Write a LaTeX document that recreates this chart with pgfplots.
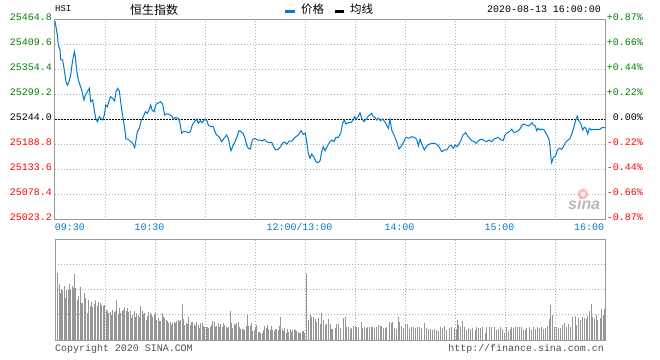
\documentclass[border=0pt]{standalone}
\usepackage{pgfplots}
\pgfplotsset{compat=1.18}
\usepackage{fontspec}
\setmainfont{Liberation Sans}
\setmonofont{Liberation Mono}
\newfontfamily\cjk{Noto Sans CJK SC}
\definecolor{sinablue}{RGB}{0,122,204}
\definecolor{upgreen}{RGB}{0,128,0}
\definecolor{downred}{RGB}{255,0,0}
\definecolor{framegray}{RGB}{153,153,153}
\definecolor{gridgray}{RGB}{175,175,175}
\definecolor{bargray}{RGB}{150,150,150}
\definecolor{txtgray}{RGB}{80,80,80}
\newcommand{\mono}{\ttfamily\fontsize{10}{10}\selectfont}
\begin{document}
\begin{tikzpicture}
\useasboundingbox (0bp,0bp) rectangle (660bp,360bp);
\pgfplotsset{
  sinapanel/.style={
    scale only axis, width=550bp,
    xmin=0, xmax=330, xtick={0,30,...,330},
    grid=major, scaled ticks=false,
    major grid style={gridgray, line width=1bp, dash pattern=on 1bp off 2bp},
    axis line style={framegray, line width=1bp},
    major tick length=0pt, tick style={draw=none},
  }
}
% ---------- price panel ----------
\begin{axis}[sinapanel, at={(55bp,140bp)}, anchor=south west, height=200bp,
  ymin=25023.2, ymax=25464.8,
  ytick={25023.2,25078.4,25133.6,25188.8,25244.0,25299.2,25354.4,25409.6,25464.8},
  yticklabels={\textcolor{downred}{25023.2},\textcolor{downred}{25078.4},\textcolor{downred}{25133.6},\textcolor{downred}{25188.8},25244.0,\textcolor{upgreen}{25299.2},\textcolor{upgreen}{25354.4},\textcolor{upgreen}{25409.6},\textcolor{upgreen}{25464.8}},
  yticklabel style={font=\mono, anchor=east, inner sep=0pt, xshift=-3bp, yshift=3bp},
  xticklabels={\makebox[0pt][l]{09:30},,\makebox[0pt]{10:30\kern11bp},,,\makebox[0pt]{12:00/13:00\kern11bp},,\makebox[0pt]{14:00\kern11bp},,\makebox[0pt]{15:00\kern11bp},,\makebox[0pt][r]{16:00\kern1bp}},
  xticklabel style={font=\mono, text=sinablue, anchor=north, inner sep=0pt, yshift=-3.5bp},
]
\addplot[black, line width=1bp, dash pattern=on 2bp off 1bp] coordinates {(0,25244.0) (330,25244.0)};
\addplot[sinablue, line width=1bp] coordinates {
(0,25462.6) (1.4,25431.7) (2.0,25409.6) (3.0,25398.6) (3.4,25376.5) (4.6,25376.5) (5.4,25358.2) (6.0,25343.4) (6.6,25328.6) (7.4,25321.3) (8.4,25328.6) (9.4,25343.4) (10.2,25365.4) (11.0,25383.8) (11.6,25394.8) (12.2,25383.8) (13.0,25354.4) (14.0,25332.3) (15.0,25321.3) (16.0,25310.2) (17.4,25288.2) (18.2,25299.2) (19.4,25306.5) (20.6,25314.0) (21.4,25284.4) (22.6,25288.2) (23.4,25269.8) (24.4,25247.8) (25.4,25240.2) (26.6,25251.3) (27.8,25246.2) (28.6,25244.0) (29.6,25255.0) (30.4,25277.1) (31.4,25273.4) (32.6,25288.2) (33.4,25295.5) (34.6,25291.9) (35.8,25286.0) (36.6,25306.5) (37.6,25314.0) (38.6,25308.0) (39.4,25284.4) (40.2,25262.3) (41.0,25244.0) (41.8,25225.7) (42.6,25202.0) (43.8,25202.0) (45.0,25197.6) (46.6,25192.6) (47.8,25182.8) (48.6,25199.8) (49.4,25218.2) (50.6,25225.7) (51.8,25244.0) (53.0,25251.3) (54.2,25262.3) (55.4,25258.8) (56.6,25268.3) (57.4,25277.1) (58.2,25266.1) (59.4,25262.3) (60.6,25278.7) (61.8,25280.9) (63.4,25284.4) (64.6,25278.7) (65.8,25255.0) (67.0,25257.7) (68.4,25256.6) (70.0,25252.8) (71.0,25246.2) (72.0,25249.1) (74.0,25247.8) (75.0,25236.7) (76.0,25214.6) (77.0,25218.2) (78.4,25218.2) (80.0,25216.0) (81.2,25218.2) (82.4,25233.0) (83.6,25240.2) (85.0,25246.2) (86.0,25236.7) (87.2,25242.5) (88.4,25238.0) (89.6,25245.5) (91.0,25244.0) (92.0,25233.0) (93.4,25229.2) (95.0,25229.2) (96.0,25218.2) (97.0,25210.9) (98.4,25207.1) (100.0,25196.1) (101.4,25203.6) (103.0,25210.9) (104.0,25203.6) (105.0,25185.0) (105.6,25176.2) (107.0,25188.8) (108.0,25196.1) (109.2,25207.1) (110.4,25220.4) (111.6,25218.2) (112.8,25214.6) (114.0,25203.6) (115.0,25188.8) (116.0,25181.5) (117.2,25180.0) (118.4,25199.8) (120.0,25203.6) (121.6,25199.8) (123.0,25199.8) (124.4,25197.6) (125.6,25201.4) (127.0,25196.1) (128.4,25193.9) (130.0,25194.8) (131.2,25185.0) (132.4,25177.8) (134.0,25179.3) (135.6,25186.6) (136.6,25192.6) (137.8,25195.4) (139.0,25190.3) (140.6,25197.6) (142.2,25197.6) (144.0,25205.8) (146.0,25210.9) (147.6,25220.4) (149.0,25212.1) (150.2,25214.6) (151.0,25196.1) (152.0,25170.5) (153.0,25159.4) (154.0,25168.9) (155.4,25161.6) (156.6,25151.9) (157.8,25149.7) (159.0,25153.5) (160.0,25174.0) (161.0,25185.0) (162.0,25176.2) (163.4,25186.6) (165.0,25196.1) (166.2,25199.8) (167.4,25196.1) (168.6,25205.8) (170.0,25205.8) (171.4,25214.6) (172.6,25236.7) (173.6,25244.0) (174.6,25235.2) (176.0,25238.0) (177.4,25238.0) (178.6,25242.5) (179.8,25251.3) (180.6,25245.5) (181.6,25250.0) (183.0,25260.1) (184.0,25247.8) (185.4,25240.2) (186.6,25245.5) (188.0,25252.8) (189.0,25255.0) (190.0,25258.8) (191.0,25251.3) (192.0,25250.0) (193.0,25244.0) (194.2,25247.8) (195.4,25242.5) (196.6,25246.2) (197.8,25240.2) (199.0,25233.0) (200.0,25225.7) (201.0,25245.5) (202.0,25222.1) (203.4,25210.9) (205.0,25196.1) (206.4,25180.0) (207.6,25185.0) (209.0,25193.9) (210.6,25205.8) (212.4,25203.6) (214.0,25207.1) (215.6,25205.8) (217.0,25201.4) (218.0,25186.6) (219.0,25201.4) (220.0,25192.6) (221.6,25177.8) (223.0,25186.6) (224.4,25190.3) (226.0,25192.6) (227.6,25192.6) (229.0,25190.3) (230.4,25185.0) (232.0,25174.0) (233.6,25177.8) (235.0,25177.8) (236.4,25185.0) (237.6,25188.8) (239.0,25181.5) (240.0,25188.8) (241.2,25185.0) (242.4,25191.0) (243.6,25199.8) (244.8,25210.9) (246.4,25216.0) (247.6,25208.7) (248.8,25203.6) (250.0,25198.3) (251.6,25196.1) (252.8,25192.6) (254.0,25198.3) (255.2,25201.4) (256.4,25201.4) (257.6,25198.3) (259.0,25196.1) (260.4,25199.8) (262.0,25196.1) (263.2,25201.4) (264.4,25203.6) (266.0,25205.8) (267.6,25199.8) (269.0,25199.0) (270.0,25210.9) (271.4,25216.0) (272.6,25218.2) (274.0,25223.5) (275.4,25216.0) (277.0,25218.2) (278.6,25222.0) (280.0,25230.8) (281.0,25235.2) (282.6,25233.0) (284.0,25230.8) (285.4,25235.2) (286.2,25238.0) (287.0,25233.0) (288.2,25230.8) (289.0,25220.4) (290.0,25225.7) (291.0,25222.0) (292.2,25224.1) (293.4,25222.0) (294.6,25214.6) (295.6,25207.1) (296.4,25201.4) (297.0,25185.0) (297.6,25159.4) (298.0,25149.7) (299.0,25161.6) (300.4,25164.5) (301.4,25177.8) (302.6,25181.5) (304.0,25179.3) (305.0,25185.0) (306.2,25193.9) (307.4,25198.3) (309.0,25203.6) (310.2,25214.6) (311.4,25229.2) (312.4,25244.0) (313.4,25252.8) (314.2,25242.5) (315.4,25236.7) (316.6,25222.0) (317.6,25228.0) (318.6,25225.7) (319.6,25213.1) (320.6,25225.7) (321.8,25222.0) (323.0,25223.5) (325.0,25223.5) (327.0,25223.5) (328.2,25227.0) (330.0,25227.0)
};
\end{axis}
% ---------- right percentage scale ----------
\begin{axis}[scale only axis, at={(55bp,140bp)}, anchor=south west, width=550bp, height=200bp,
  xmin=0, xmax=330, ymin=-0.8747, ymax=0.8747, scaled ticks=false,
  axis x line=none, axis y line*=right, y axis line style={draw=none},
  major tick length=0pt, tick style={draw=none},
  ytick={-0.8747,-0.6560,-0.4373,-0.2187,0,0.2187,0.4373,0.6560,0.8747},
  yticklabels={\textcolor{downred}{-0.87\%},\textcolor{downred}{-0.66\%},\textcolor{downred}{-0.44\%},\textcolor{downred}{-0.22\%},0.00\%,\textcolor{upgreen}{+0.22\%},\textcolor{upgreen}{+0.44\%},\textcolor{upgreen}{+0.66\%},\textcolor{upgreen}{+0.87\%}},
  yticklabel style={font=\mono, anchor=east, inner sep=0pt, xshift=38bp, yshift=3bp},
]
\addplot[draw=none] coordinates {(0,0)};
\end{axis}
% ---------- volume panel ----------
\begin{axis}[sinapanel, at={(55bp,20bp)}, anchor=south west, height=100bp,
  ymin=0, ymax=100, ytick={0,25,50,75,100}, yticklabels={}, xticklabels={},
]
\addplot[ycomb, bargray, line width=1bp] coordinates {
(1.4,67) (2.4,56) (3.2,47) (4,51) (4.6,50) (5.4,54) (6.2,42) (7,50) (8,50) (8.6,56) (9.4,51) (10.2,54) (11,52) (11.6,66) (12.4,52) (13.4,40) (14.2,44) (15.2,53) (15.8,37) (16.6,37) (17.6,47) (18.2,42) (19.2,27) (20.2,40) (21,34) (21.8,38) (22.6,33) (23.4,36) (24.4,40) (25.2,34) (26.2,38) (27,37) (28,35) (29,34) (29.8,35) (30.6,30) (31.4,29) (32.2,27) (33,28) (33.8,25) (34.6,30) (35.4,28) (36.2,29) (37,40) (37.8,26) (38.6,32) (39.4,27) (40.2,29) (41,30) (41.8,33) (42.6,29) (43.4,32) (44.2,28) (45,29) (45.8,22) (46.6,25) (47.4,29) (48.2,23) (49,27) (49.8,25) (50.6,23) (51.4,34) (52.2,29) (53,26) (53.8,27) (54.6,20) (55.4,24) (56.2,28) (57,27) (57.8,25) (58.6,23) (59.4,25) (60.2,27) (61,20) (61.8,22) (62.6,19) (63.4,19) (64.2,27) (65,23) (65.8,22) (66.6,20) (67.4,19) (68.2,17) (69,18) (69.8,15) (70.6,17) (71.4,18) (72.2,17) (73,19) (73.8,20) (74.6,19) (75.4,20) (76.2,36) (77,21) (77.8,15) (78.6,17) (79.4,16) (80.2,23) (81,15) (81.8,18) (82.6,18) (83.4,16) (84.2,14) (85,18) (85.8,15) (86.6,12) (87.4,17) (88.2,17) (89,14) (89.8,13) (90.6,13) (91.4,13) (92.2,12) (93,13) (93.8,15) (94.6,19) (95.4,18) (96.2,13) (97,14) (97.8,17) (98.6,13) (99.4,16) (100.2,13) (101,17) (101.8,15) (102.6,13) (103.4,12) (104.2,13) (105,29) (105.8,17) (106.6,12) (107.4,16) (108.2,15) (109,17) (109.8,18) (110.6,13) (111.4,11) (112.2,11) (113,11) (113.8,10) (114.6,14) (115.4,25) (116.2,14) (117,14) (117.8,17) (118.6,9) (119.4,10) (120.2,13) (121,15) (121.8,8) (122.6,8) (123.4,7) (124.2,7) (125,10) (125.8,14) (126.6,12) (127.4,15) (128.2,11) (129,10) (129.8,14) (130.6,10) (131.4,9) (132.2,11) (133,11) (133.8,10) (134.6,14) (135.4,23) (136.2,11) (137,9) (137.8,12) (138.6,7) (139.4,11) (140.2,8) (141,11) (141.8,8) (142.6,10) (143.4,11) (144.2,10) (145,9) (145.8,8) (146.6,7) (147.4,7) (148.2,9) (149,9) (149.8,7)
(150.6,66) (152,20) (153,25) (154,23) (155,23) (156,21) (157,18) (158,22) (159,16) (160,27) (161,20) (162,15) (163,16) (164,21)
(165,16) (165.6,11) (166.6,11) (168,12) (169,16) (170,16) (171.4,12) (173,22) (174,23) (175,13) (176,13) (177,11) (178,12) (179,14) (180,14) (181,13) (182,13) (183.6,18) (184.6,12) (185.6,13) (186.6,12) (187.6,13) (188.6,13) (189.6,13) (190.6,13) (191.6,12) (192.6,13) (194,15) (195,14) (196,14) (197,12) (198,12) (199,13) (200.6,18) (201.6,17) (202.6,18) (203.6,12) (204.6,11) (205.8,23) (206.6,18) (207.6,14) (209,12) (210.2,16) (211.4,16) (212.6,11) (214,13) (215,13) (216,12) (217.4,13) (218.6,13) (220,12) (221.4,17) (222.6,12) (223.8,11) (225,11) (226.2,10) (227.4,11) (228.6,10) (230,9) (231.4,13) (232.6,12) (233.8,14) (235,10) (236.6,12) (238,13) (239.4,12) (240.6,11) (241.4,20) (242.2,15) (243.4,13) (244.6,19) (245.6,13) (247,10) (248.2,12) (249.4,11) (250.6,12) (252,10) (253,13) (254.2,12) (255.4,12) (256.6,13) (258,7) (259,13) (260.6,13) (262,13) (263.4,13) (264.6,10) (266,11) (267.4,13) (268.6,11) (269.8,7) (271,13) (272,9) (273,11) (274,13) (275,12) (276.2,13) (277.4,13) (278.6,13) (280,13) (281,10) (282,10) (283,12) (284.6,13) (285.8,10) (287,13) (288.2,11) (289.4,13) (290.6,12) (291.8,13) (293,11) (294,12) (295.4,14) (296.6,21) (297.4,35) (298.6,25) (299.8,13) (301,13) (302.2,12) (303.4,12) (304.6,15) (305.8,17) (307,13) (308.2,16) (309.4,13) (310.6,23) (312,24) (313,15) (314,22) (315,20) (316.2,23) (317.4,22) (318.6,21) (319.4,24) (320.6,29) (321.6,36) (322.6,23) (323.6,21) (324.6,25) (325.6,20) (327,22) (328,31) (329,25) (329.6,31)
};
\end{axis}
% ---------- header ----------
\node[anchor=west, inner sep=0pt] at (55bp,351.5bp) {\ttfamily\fontsize{9}{9}\selectfont HSI};
\node[anchor=west, inner sep=0pt] at (130bp,350.5bp) {\cjk\fontsize{12}{12}\selectfont 恒生指数};
\fill[sinablue] (285bp,347.3bp) rectangle (295bp,350.3bp);
\node[anchor=west, inner sep=0pt] at (301bp,350.5bp) {\cjk\fontsize{11.5}{12}\selectfont 价格};
\fill[black] (335bp,347.3bp) rectangle (344bp,350.3bp);
\node[anchor=west, inner sep=0pt] at (350bp,350.5bp) {\cjk\fontsize{11.5}{12}\selectfont 均线};
\node[anchor=east, inner sep=0pt] at (601bp,351bp) {\mono 2020-08-13 16:00:00};
% ---------- watermark ----------
\fill[red!45, opacity=0.55] (583bp,166bp) circle (5.5bp);
\fill[white, opacity=0.8] (583bp,166bp) circle (2.2bp);
\node[anchor=south west, inner sep=0pt, text=black!28] at (568bp,150bp) {\fontsize{16}{16}\selectfont\bfseries\itshape sina};
% ---------- footer ----------
\node[anchor=west, inner sep=0pt, text=txtgray] at (55bp,10.7bp) {\mono Copyright 2020 SINA.COM};
\node[anchor=east, inner sep=0pt, text=txtgray] at (604bp,10.7bp) {\mono http://finance.sina.com.cn};
\end{tikzpicture}
\end{document}
